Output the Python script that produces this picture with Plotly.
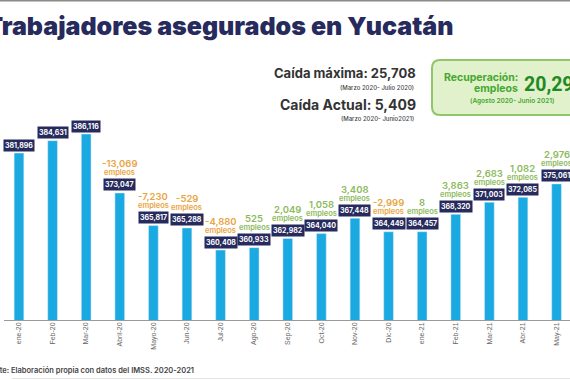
import plotly.graph_objects as go

months = ["ene-20", "Feb-20", "Mar-20", "Abril-20", "Mayo-20", "Jun-20", "Jul-20", "Ago-20",
          "Sep-20", "Oct-20", "Nov-20", "Dic-20", "ene-21", "Feb-21", "Mar-21", "Abr-21", "May-21"]
workers = [381896, 384631, 386116, 373047, 365817, 365288, 360408, 360933,
           362982, 364040, 367448, 364449, 364457, 368320, 371003, 372085, 375061]
changes = [None, None, None, -13069, -7230, -529, -4880, 525,
           2049, 1058, 3408, -2999, 8, 3863, 2683, 1082, 2976]

W, H = 570, 380
T, B = 100, 60
PH = H - T - B

def px(x):
    return x / W

def py(y):
    return (H - B - y) / PH

NAVY = "#262a5c"
BAR = "#1aa9e1"
ORANGE = "#e9a443"
GREEN = "#8cba5c"
FONT = "Inter"

fig = go.Figure()
fig.add_trace(go.Bar(x=months, y=workers, marker_color=BAR, width=0.29, hoverinfo="skip"))

ann = []
for m, v, c in zip(months, workers, changes):
    ann.append(dict(x=m, y=v, xref="x", yref="y", text=f"{v:,}", showarrow=False,
                    yanchor="middle", yshift=8, bgcolor=NAVY, borderpad=1,
                    font=dict(family=FONT, size=7, color="white", weight=700)))
    if c is not None:
        col = ORANGE if c < 0 else GREEN
        ann.append(dict(x=m, y=v, xref="x", yref="y", text=f"{c:,}", showarrow=False,
                        yanchor="middle", yshift=29,
                        font=dict(family=FONT, size=9.5, color=col, weight=600)))
        ann.append(dict(x=m, y=v, xref="x", yref="y", text="empleos", showarrow=False,
                        yanchor="middle", yshift=20,
                        font=dict(family=FONT, size=7.5, color=col, weight=600)))

# Title
ann.append(dict(x=px(455), y=py(26), xref="paper", yref="paper", xanchor="right", yanchor="middle",
                text="Trabajadores asegurados en Yucatán", showarrow=False,
                font=dict(family=FONT, size=25, color=NAVY, weight=900)))
# Caída texts
ann.append(dict(x=px(418), y=py(73), xref="paper", yref="paper", xanchor="right", yanchor="middle",
                text="Caída máxima: 25,708", showarrow=False,
                font=dict(family=FONT, size=13, color="#333333", weight=700)))
ann.append(dict(x=px(416), y=py(87), xref="paper", yref="paper", xanchor="right", yanchor="middle",
                text="(Marzo 2020- Julio 2020)", showarrow=False,
                font=dict(family=FONT, size=6, color="#444444", weight=500)))
ann.append(dict(x=px(418), y=py(104), xref="paper", yref="paper", xanchor="right", yanchor="middle",
                text="Caída Actual: 5,409", showarrow=False,
                font=dict(family=FONT, size=14, color="#333333", weight=700)))
ann.append(dict(x=px(416), y=py(118), xref="paper", yref="paper", xanchor="right", yanchor="middle",
                text="(Marzo 2020- Junio2021)", showarrow=False,
                font=dict(family=FONT, size=6, color="#444444", weight=500)))
# Recuperación box texts
ann.append(dict(x=px(520), y=py(78), xref="paper", yref="paper", xanchor="right", yanchor="middle",
                text="Recuperación:", showarrow=False,
                font=dict(family=FONT, size=10.5, color="#45a82f", weight=700)))
ann.append(dict(x=px(520), y=py(88), xref="paper", yref="paper", xanchor="right", yanchor="middle",
                text="empleos", showarrow=False,
                font=dict(family=FONT, size=10.5, color="#45a82f", weight=700)))
ann.append(dict(x=px(522), y=py(84), xref="paper", yref="paper", xanchor="left", yanchor="middle",
                text="20,29", showarrow=False,
                font=dict(family="Roboto", size=19.5, color="#1f8a22", weight=700)))
ann.append(dict(x=px(512), y=py(101), xref="paper", yref="paper", xanchor="center", yanchor="middle",
                text="(Agosto 2020- Junio 2021)", showarrow=False,
                font=dict(family=FONT, size=6.5, color="#45a82f", weight=600)))
# Source
ann.append(dict(x=px(196), y=py(370), xref="paper", yref="paper", xanchor="right", yanchor="middle",
                text="Fuente: Elaboración propia con datos del IMSS. 2020-2021", showarrow=False,
                font=dict(family=FONT, size=7.5, color="#444444", weight=600)))

x0, y0, x1, y1, r = px(432), py(60), px(620), py(115), 8
rx, ry = r / W, r / PH
box_path = (f"M {x0+rx},{y0} L {x1},{y0} L {x1},{y1} L {x0+rx},{y1} "
            f"Q {x0},{y1} {x0},{y1+ry} L {x0},{y0-ry} Q {x0},{y0} {x0+rx},{y0} Z")

shapes = [
    dict(type="path", xref="paper", yref="paper", path=box_path,
         fillcolor="#e0f1cc", line=dict(color="#92c46a", width=2), layer="below"),
    dict(type="line", xref="paper", yref="paper", x0=0, x1=1, y0=py(0.5), y1=py(0.5),
         line=dict(color="#8a8a8a", width=2)),
    dict(type="line", xref="paper", yref="paper", x0=px(4), x1=1, y0=py(320.5), y1=py(320.5),
         line=dict(color="#9a9a9a", width=1)),
    dict(type="line", xref="paper", yref="paper", x0=px(12), x1=1, y0=py(378.5), y1=py(378.5),
         line=dict(color="#e4e4e4", width=1)),
]

y_per_px = (386116 - 360408) / 116.0
ybase = 386116 - (320 - 134) * y_per_px
ytop = ybase + PH * y_per_px

fig.update_layout(
    width=W, height=H, margin=dict(l=0, r=0, t=T, b=B),
    paper_bgcolor="white", plot_bgcolor="white", showlegend=False,
    annotations=ann, shapes=shapes,
    xaxis=dict(type="category", range=[-0.565, 16.4], showgrid=False, zeroline=False,
               showline=False, ticks="", tickangle=-90,
               tickfont=dict(family="Arial", size=7, color="#666666")),
    yaxis=dict(range=[ybase, ytop], showgrid=False, zeroline=False, showticklabels=False,
               visible=False),
)

fig.write_html("out.html", config={"displayModeBar": False},
               post_script="document.body.style.margin='0';document.body.style.overflow='hidden';")
